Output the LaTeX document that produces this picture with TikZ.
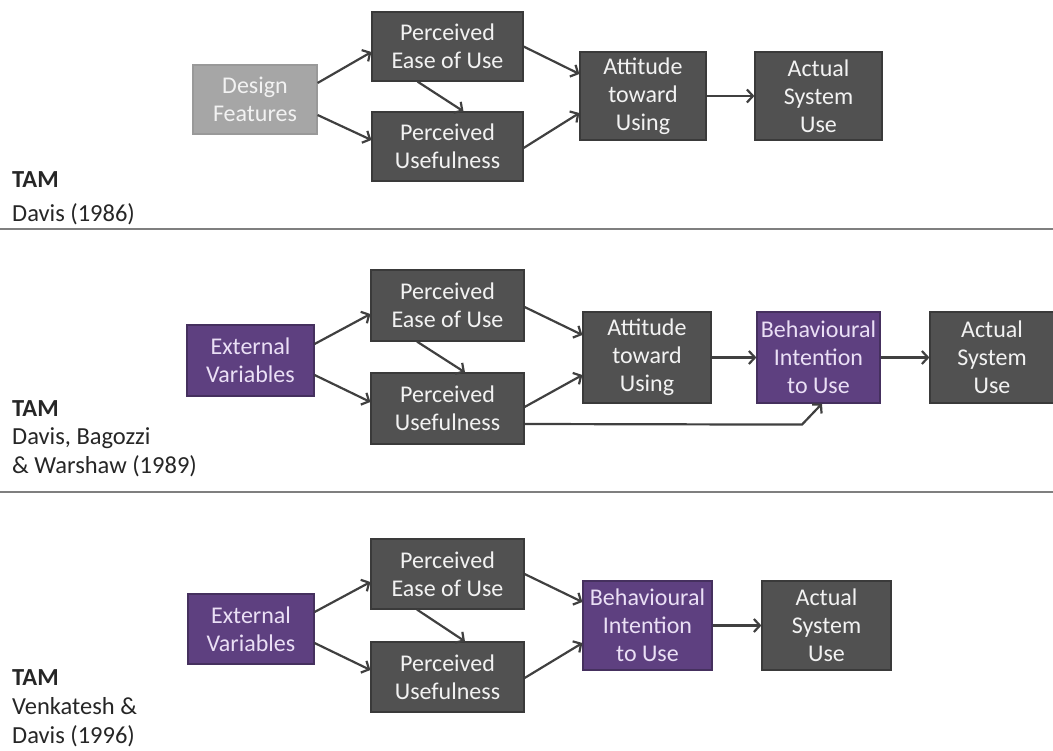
\documentclass[tikz,border=0pt]{standalone}
\usepackage{fontspec}
\setmainfont{Carlito}
\usetikzlibrary{arrows.meta}
\definecolor{boxgray}{HTML}{515151}
\definecolor{boxedge}{HTML}{3A3A3A}
\definecolor{boxpurple}{HTML}{5E4080}
\definecolor{purpleedge}{HTML}{45305E}
\definecolor{lightbox}{HTML}{A6A6A6}
\definecolor{arrowgray}{HTML}{404040}
\definecolor{lav}{HTML}{EADFF5}
\definecolor{rulegray}{HTML}{7F7F7F}
\begin{document}
\begin{tikzpicture}[x=1pt,y=-1pt,
  box/.style={rectangle, draw=boxedge, line width=1.2pt, fill=boxgray, text=white!95!black,
    align=center, inner sep=0pt, font=\fontsize{24}{28}\selectfont},
  pbox/.style={box, fill=boxpurple, draw=purpleedge, text=lav},
  lbox/.style={box, fill=lightbox, draw=lightbox!92!black, text=white!95!black},
  arr/.style={draw=arrowgray, line width=2.2pt, -{Straight Barb[length=6pt,width=13pt]}},
  lab/.style={anchor=base west, inner sep=0pt, font=\fontsize{24.5}{28}\selectfont, text=black!85},
  sep/.style={draw=rulegray, line width=1.4pt}]
\useasboundingbox (0,0) rectangle (1053,751);

% ---------- Section 1 ----------
\node[lbox, minimum width=124pt, minimum height=69pt] (df) at (255,99.5) {Design\\Features};
\node[box, minimum width=151pt, minimum height=69pt] (peou1) at (447.5,46.5) {Perceived\\Ease of Use};
\node[box, minimum width=151pt, minimum height=69pt] (pu1) at (447.5,146.5) {Perceived\\Usefulness};
\node[box, minimum width=126pt, minimum height=88pt] (att1) at (643,96) {Attitude\\toward\\Using};
\node[box, minimum width=127pt, minimum height=88pt] (act1) at (818.5,96) {Actual\\System\\Use};

\draw[arr] ([yshift=16.5pt]df.east) -- ([yshift=-5.5pt]peou1.west);
\draw[arr] ([yshift=-15.5pt]df.east) -- ([yshift=6.5pt]pu1.west);
\draw[arr] ([xshift=-30pt]peou1.south) -- ([xshift=16pt]pu1.north);
\draw[arr] (peou1.east) -- ([yshift=22pt]att1.west);
\draw[arr] ([yshift=-1.5pt]pu1.east) -- ([yshift=-17pt]att1.west);
\draw[arr] (att1.east) -- (act1.west);

\node[lab] (tam1) at (12,188) {\textbf{TAM}};
\node[lab] (ref1) at (12,222) {Davis (1986)};
\coordinate (s1l) at (0,229);
\coordinate (s1r) at (1053,229);
\draw[sep] (s1l) -- (s1r);

% ---------- Section 2 ----------
\node[pbox, minimum width=127pt, minimum height=71pt] (ev2) at (250.5,360.5) {External\\Variables};
\node[box, minimum width=153pt, minimum height=71pt] (peou2) at (447.5,305.5) {Perceived\\Ease of Use};
\node[box, minimum width=153pt, minimum height=71pt] (pu2) at (447.5,408.5) {Perceived\\Usefulness};
\node[box, minimum width=128pt, minimum height=91pt] (att2) at (647,357.5) {Attitude\\toward\\Using};
\node[pbox, minimum width=123pt, minimum height=91pt] (bi2) at (818.5,357.5) {Behavioural\\Intention\\to Use};
\node[box, minimum width=124pt, minimum height=91pt] (act2) at (992,357.5) {Actual\\System\\Use};

\draw[arr] ([yshift=16.5pt]ev2.east) -- ([yshift=-8.5pt]peou2.west);
\draw[arr] ([yshift=-14.5pt]ev2.east) -- ([yshift=6.5pt]pu2.west);
\draw[arr] ([xshift=-30.5pt]peou2.south) -- ([xshift=17.5pt]pu2.north);
\draw[arr] ([yshift=-1.5pt]peou2.east) -- ([yshift=22.5pt]att2.west);
\draw[arr] ([yshift=1.5pt]pu2.east) -- ([yshift=-17.5pt]att2.west);
\draw[arr] ([yshift=-15.5pt]pu2.east) -- ([xshift=-16.5pt,yshift=-21pt]bi2.south) -- ([xshift=3.5pt]bi2.south);
\draw[arr] (att2.east) -- (bi2.west);
\draw[arr] (bi2.east) -- (act2.west);

\node[lab] (tam2) at (12,417) {\textbf{TAM}};
\node[lab] (ref2a) at (12,445) {Davis, Bagozzi};
\node[lab] (ref2b) at (12,473) {\& Warshaw (1989)};
\coordinate (s2l) at (0,492);
\coordinate (s2r) at (1053,492);
\draw[sep] (s2l) -- (s2r);

% ---------- Section 3 ----------
\node[pbox, minimum width=126pt, minimum height=70pt] (ev3) at (251,629) {External\\Variables};
\node[box, minimum width=153pt, minimum height=70pt] (peou3) at (447.5,574) {Perceived\\Ease of Use};
\node[box, minimum width=153pt, minimum height=70pt] (pu3) at (447.5,677) {Perceived\\Usefulness};
\node[pbox, minimum width=129pt, minimum height=89pt] (bi3) at (647.5,625.5) {Behavioural\\Intention\\to Use};
\node[box, minimum width=129pt, minimum height=89pt] (act3) at (826.5,625.5) {Actual\\System\\Use};

\draw[arr] ([yshift=17pt]ev3.east) -- ([yshift=-8pt]peou3.west);
\draw[arr] ([yshift=-14pt]ev3.east) -- ([yshift=7pt]pu3.west);
\draw[arr] ([xshift=-30.5pt]peou3.south) -- ([xshift=17.5pt]pu3.north);
\draw[arr] (peou3.east) -- ([yshift=23.5pt]bi3.west);
\draw[arr] ([yshift=-1pt]pu3.east) -- ([yshift=-17.5pt]bi3.west);
\draw[arr] (bi3.east) -- (act3.west);

\node[lab] (tam3) at (12,685) {\textbf{TAM}};
\node[lab] (ref3a) at (12,714) {Venkatesh \&};
\node[lab] (ref3b) at (12,743) {Davis (1996)};
\end{tikzpicture}
\end{document}
